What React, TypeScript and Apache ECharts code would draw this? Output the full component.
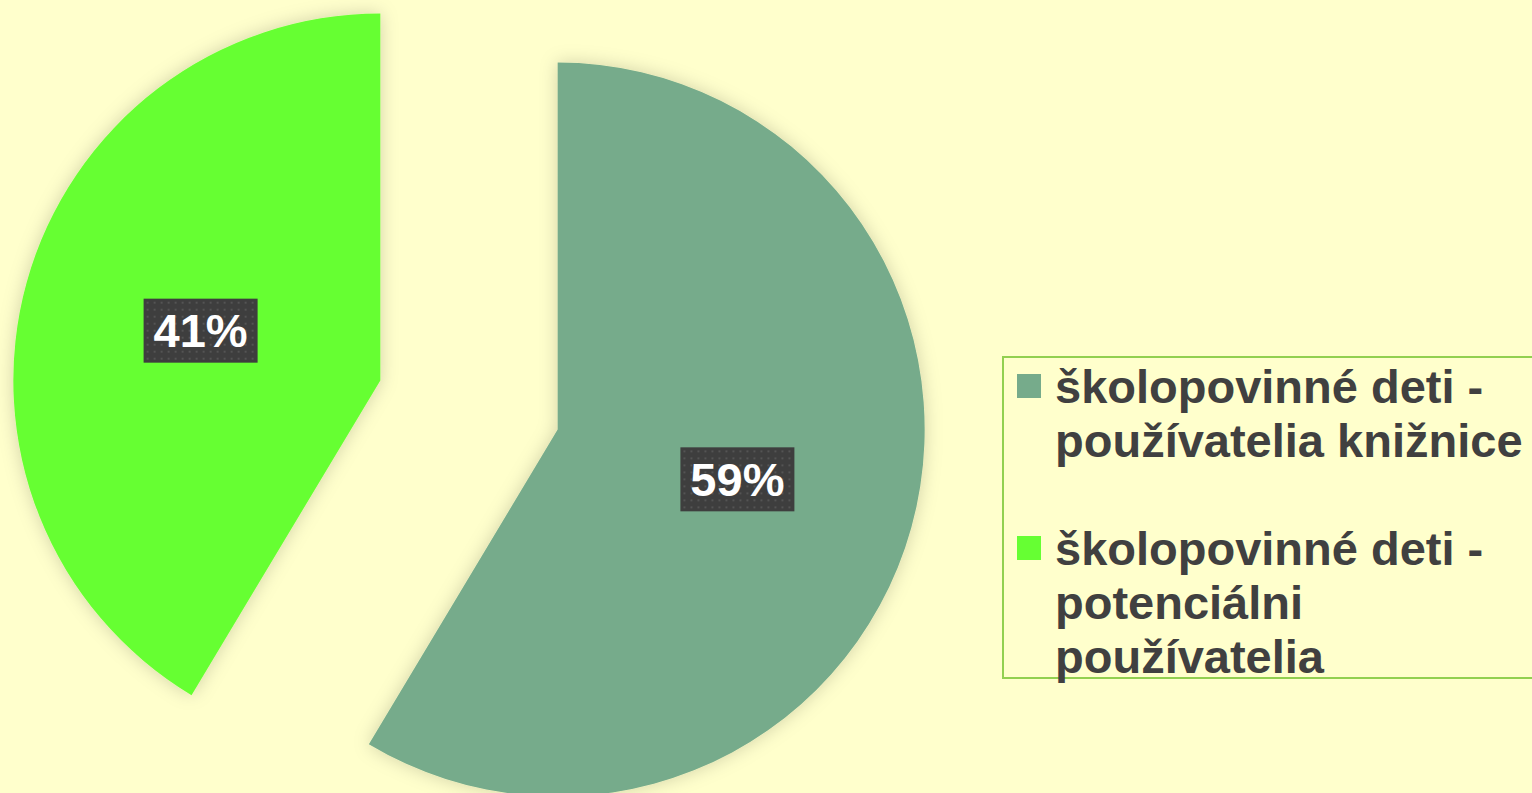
import React, { useEffect, useRef } from 'react';
import * as echarts from 'echarts';

const categories = [
  'školopovinné deti - používatelia knižnice',
  'školopovinné deti - potenciálni používatelia',
];
const values = [58.6, 41.4];
const legendLines = [
  ['školopovinné deti -', 'používatelia knižnice'],
  ['školopovinné deti -', 'potenciálni', 'používatelia'],
];
const colors = ['#76AB8B', '#66FF33'];

function makeDots(): string {
  const c = document.createElement('canvas');
  c.width = 114;
  c.height = 64;
  const ctx = c.getContext('2d');
  if (!ctx) return '';
  ctx.fillStyle = '#3E3E3E';
  ctx.fillRect(0, 0, c.width, c.height);
  ctx.fillStyle = '#545454';
  for (let y = 3; y < c.height; y += 7) {
    for (let x = 3; x < c.width; x += 7) {
      ctx.fillRect(x, y, 2, 2);
    }
  }
  return c.toDataURL();
}

export default function App() {
  const ref = useRef<HTMLDivElement>(null);
  useEffect(() => {
    if (!ref.current) return;
    const chart = echarts.init(ref.current, undefined, { renderer: 'svg' });
    const dots = makeDots();
    chart.setOption({
      animation: false,
      backgroundColor: '#FFFFCC',
      legend: {
        orient: 'vertical',
        left: 1017,
        top: 305,
        padding: 0,
        itemGap: -54,
        itemWidth: 24,
        itemHeight: 24,
        icon: 'rect',
        selectedMode: false,
        data: categories,
        formatter: (name: string) => {
          const i = categories.indexOf(name);
          const lines = legendLines[i];
          return '\n'.repeat(lines.length - 1) + lines.join('\n');
        },
        textStyle: {
          fontFamily: '"Liberation Sans", Arial, sans-serif',
          fontWeight: 'bold',
          fontSize: 47,
          lineHeight: 54,
          color: '#404040',
          padding: [0, 0, 0, 9],
        },
      },
      graphic: [
        {
          type: 'rect',
          shape: { x: 1003, y: 357, width: 560, height: 321 },
          style: { fill: 'none', stroke: '#92D050', lineWidth: 2 },
          silent: true,
        },
      ],
      series: [
        {
          type: 'pie',
          center: [469, 405],
          radius: [0, 367],
          startAngle: 90,
          clockwise: true,
          selectedMode: 'multiple',
          selectedOffset: 92,
          percentPrecision: 0,
          emphasis: { disabled: true },
          labelLine: { show: false },
          itemStyle: {
            shadowBlur: 18,
            shadowColor: 'rgba(0,0,0,0.18)',
          },
          label: {
            show: true,
            position: 'inner',
            formatter: '{d}%',
            fontFamily: '"Liberation Sans", Arial, sans-serif',
            fontWeight: 'bold',
            fontSize: 47,
            lineHeight: 50,
            color: '#FFFFFF',
            backgroundColor: dots ? { image: dots } : '#3E3E3E',
            padding: [7, 10, 7, 10],
            shadowColor: 'rgba(0,0,0,0.5)',
            shadowBlur: 5,
            shadowOffsetX: 3,
            shadowOffsetY: 4,
          },
          data: categories.map((name, i) => ({
            name,
            value: values[i],
            selected: true,
            itemStyle: { color: colors[i] },
            select: { itemStyle: { color: colors[i], borderWidth: 0 } },
          })),
        },
      ],
    });
    return () => chart.dispose();
  }, []);
  return (
    <div
      ref={ref}
      style={{ position: 'fixed', left: 0, top: 0, width: 1532, height: 793 }}
    />
  );
}
